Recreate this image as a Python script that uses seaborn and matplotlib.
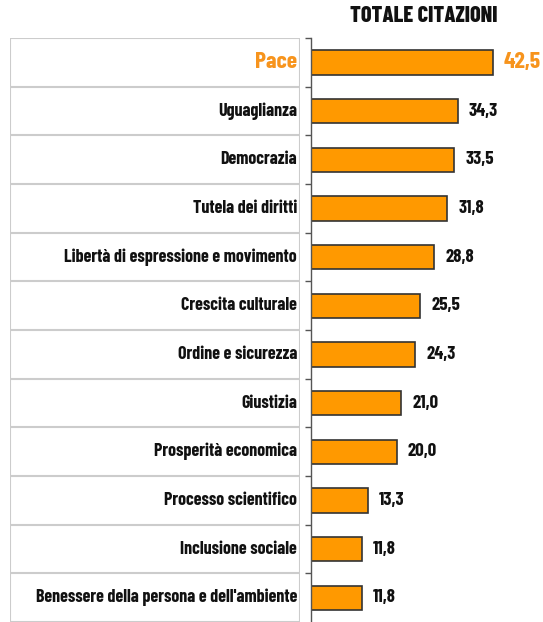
import pandas as pd
import matplotlib.pyplot as plt
import seaborn as sns

# Values
categorie = ['Pace', 'Uguaglianza', 'Democrazia', 'Tutela dei diritti',
             'Libertà di espressione e movimento', 'Crescita culturale',
             'Ordine e sicurezza', 'Giustizia', 'Prosperità economica',
             'Processo scientifico', 'Inclusione sociale',
             "Benessere della persona e dell'ambiente"]
citazioni = [42.5, 34.3, 33.5, 31.8, 28.8, 25.5, 24.3, 21.0, 20.0, 13.3, 11.8, 11.8]
etichette = ['42,5', '34,3', '33,5', '31,8', '28,8', '25,5', '24,3', '21,0',
             '20,0', '13,3', '11,8', '11,8']

data = pd.DataFrame({'Categoria': categorie, 'Citazioni': citazioni})

sns.set_style('white')
plt.rcParams['font.family'] = ['Barlow Condensed', 'DejaVu Sans']

orange = '#FF9900'
orange_text = '#F7941D'
n = len(categorie)

fig = plt.figure(figsize=(5.43, 6.22), dpi=100)
ax = fig.add_axes([311 / 543, 0, 1 - 311 / 543, (622 - 38) / 622])
tab = fig.add_axes([10 / 543, 0, 290 / 543, (622 - 38) / 622])

sns.barplot(data=data, y='Categoria', x='Citazioni', orient='h', color=orange,
            edgecolor='#333333', linewidth=1.2, width=0.5, saturation=1, ax=ax)
ax.set_xlim(0, 54.2)
ax.set_ylim(n - 0.5, -0.5)
ax.set_xlabel('')
ax.set_ylabel('')
ax.set_xticks([])
ax.set_yticks([i - 0.5 for i in range(n)])
ax.set_yticklabels([])
ax.tick_params(axis='y', left=True, length=4, width=1, color='#555555')
for s in ['top', 'right', 'bottom']:
    ax.spines[s].set_visible(False)
ax.spines['left'].set_color('#555555')
ax.spines['left'].set_linewidth(1)
ax.patch.set_alpha(0)

for i, (v, lab) in enumerate(zip(citazioni, etichette)):
    col = orange_text if i == 0 else '#111111'
    size = 17 if i == 0 else 13.5
    ax.text(v + 2.6, i, lab, va='center', ha='left', fontsize=size,
            fontweight='bold', color=col)

# label table on the left
tab.set_xlim(0, 1)
tab.set_ylim(n - 0.5, -0.5)
tab.axis('off')
for i in range(n + 1):
    tab.axhline(i - 0.5, color='#cccccc', linewidth=1.5)
tab.axvline(0, color='#cccccc', linewidth=1.5)
tab.axvline(1, color='#cccccc', linewidth=1.5)
for i, c in enumerate(categorie):
    col = orange_text if i == 0 else '#111111'
    size = 17 if i == 0 else 13
    tab.text(0.99, i, c, ha='right', va='center', fontsize=size,
             fontweight='bold', color=col)

fig.text(424 / 543, 1 - 16 / 622, 'TOTALE CITAZIONI', ha='center', va='center',
         fontsize=16, fontweight=800, color='#111111')

plt.savefig('out.png', dpi=100)
